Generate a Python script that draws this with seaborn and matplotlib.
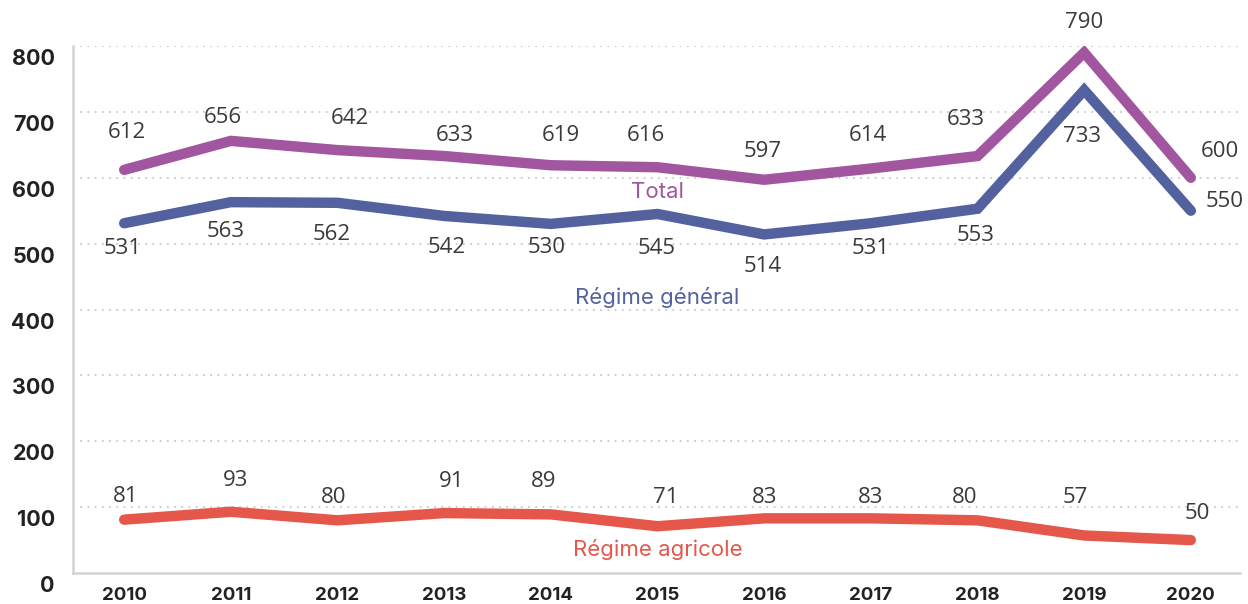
import matplotlib
matplotlib.use("Agg")
import matplotlib.pyplot as plt
import matplotlib.transforms as mtransforms
import numpy as np
import pandas as pd
import seaborn as sns

# data
years = [2010, 2011, 2012, 2013, 2014, 2015, 2016, 2017, 2018, 2019, 2020]
total = [612, 656, 642, 633, 619, 616, 597, 614, 633, 790, 600]
regime_general = [531, 563, 562, 542, 530, 545, 514, 531, 553, 733, 550]
regime_agricole = [81, 93, 80, 91, 89, 71, 83, 83, 80, 57, 50]
series_names = ["Total", "Régime général", "Régime agricole"]
y_ticks = [0, 100, 200, 300, 400, 500, 600, 700, 800]

# label offsets in pixels (dx, dy) from each point
off_total = [(3, 37), (-8, 23), (12, 32), (11, 21), (10, 30), (-12, 32),
             (-1, 28), (-3, 33), (-12, 37), (0, 30), (29, 26)]
off_general = [(-2, -25), (-5, -29), (-6, -32), (2, -32), (-4, -24), (-1, -34),
               (-1, -32), (0, -25), (-2, -27), (-2, -46), (34, 9)]
off_agricole = [(1, 23), (5, 31), (-4, 23), (7, 32), (-7, 33), (8, 29),
                (0, 21), (0, 21), (-13, 23), (-9, 38), (6, 27)]

colors = {"Total": "#A1569F", "Régime général": "#53619F", "Régime agricole": "#E5574A"}
text_color = "#3a3a3a"
label_font = ["Inter", "DejaVu Sans"]

sns.set_style("white")
plt.rcParams["font.family"] = ["Open Sans", "DejaVu Sans"]

df = pd.DataFrame({
    "year": years * 3,
    "value": total + regime_general + regime_agricole,
    "serie": [series_names[0]] * len(years) + [series_names[1]] * len(years)
             + [series_names[2]] * len(years),
})

fig = plt.figure(figsize=(12.48, 6.04), dpi=100)
ax = fig.add_axes([0.0585, 0.0513, 0.935, 0.8725])

sns.lineplot(data=df, x="year", y="value", hue="serie", palette=colors,
             linewidth=7.5, legend=False, ax=ax,
             solid_capstyle="round", solid_joinstyle="miter")

ax.set_xlim(2009.52, 2020.46)
ax.set_ylim(0, 800)
ax.set_yticks(y_ticks)
ax.set_xticks(years)
ax.set_xlabel("")
ax.set_ylabel("")

for y in y_ticks[1:]:
    ax.axhline(y, color="#c9c9c9", linestyle=(0, (1, 3)), linewidth=1.3, zorder=0)

for side in ["top", "right"]:
    ax.spines[side].set_visible(False)
for side in ["left", "bottom"]:
    ax.spines[side].set_color("#d3d3d3")
    ax.spines[side].set_linewidth(1.8)

ax.tick_params(axis="y", length=0, pad=13, labelsize=15.5, labelcolor="#222222")
ax.tick_params(axis="x", direction="in", length=8, width=1.5, color="#d3d3d3",
               pad=10, labelsize=13.5, labelcolor="#222222")
for lab in ax.get_yticklabels() + ax.get_xticklabels():
    lab.set_fontweight("bold")
    lab.set_family(label_font)
shift = mtransforms.ScaledTranslation(0, -11 / 100, fig.dpi_scale_trans)
for lab in ax.get_yticklabels():
    lab.set_transform(lab.get_transform() + shift)

for vals, offs in [(total, off_total), (regime_general, off_general),
                   (regime_agricole, off_agricole)]:
    for yr, v, (dx, dy) in zip(years, vals, offs):
        ax.annotate(str(v), (yr, v), xytext=(dx, dy), textcoords="offset pixels",
                    ha="center", va="center", fontsize=16, color=text_color)

ax.text(2015, 578, "Total", color=colors["Total"], fontsize=16, ha="center",
        va="center", family=label_font)
ax.text(2015, 419, "Régime général", color=colors["Régime général"], fontsize=16,
        ha="center", va="center", family=label_font)
ax.text(2015, 36, "Régime agricole", color=colors["Régime agricole"], fontsize=16,
        ha="center", va="center", family=label_font)

fig.savefig("out.png", dpi=100)
